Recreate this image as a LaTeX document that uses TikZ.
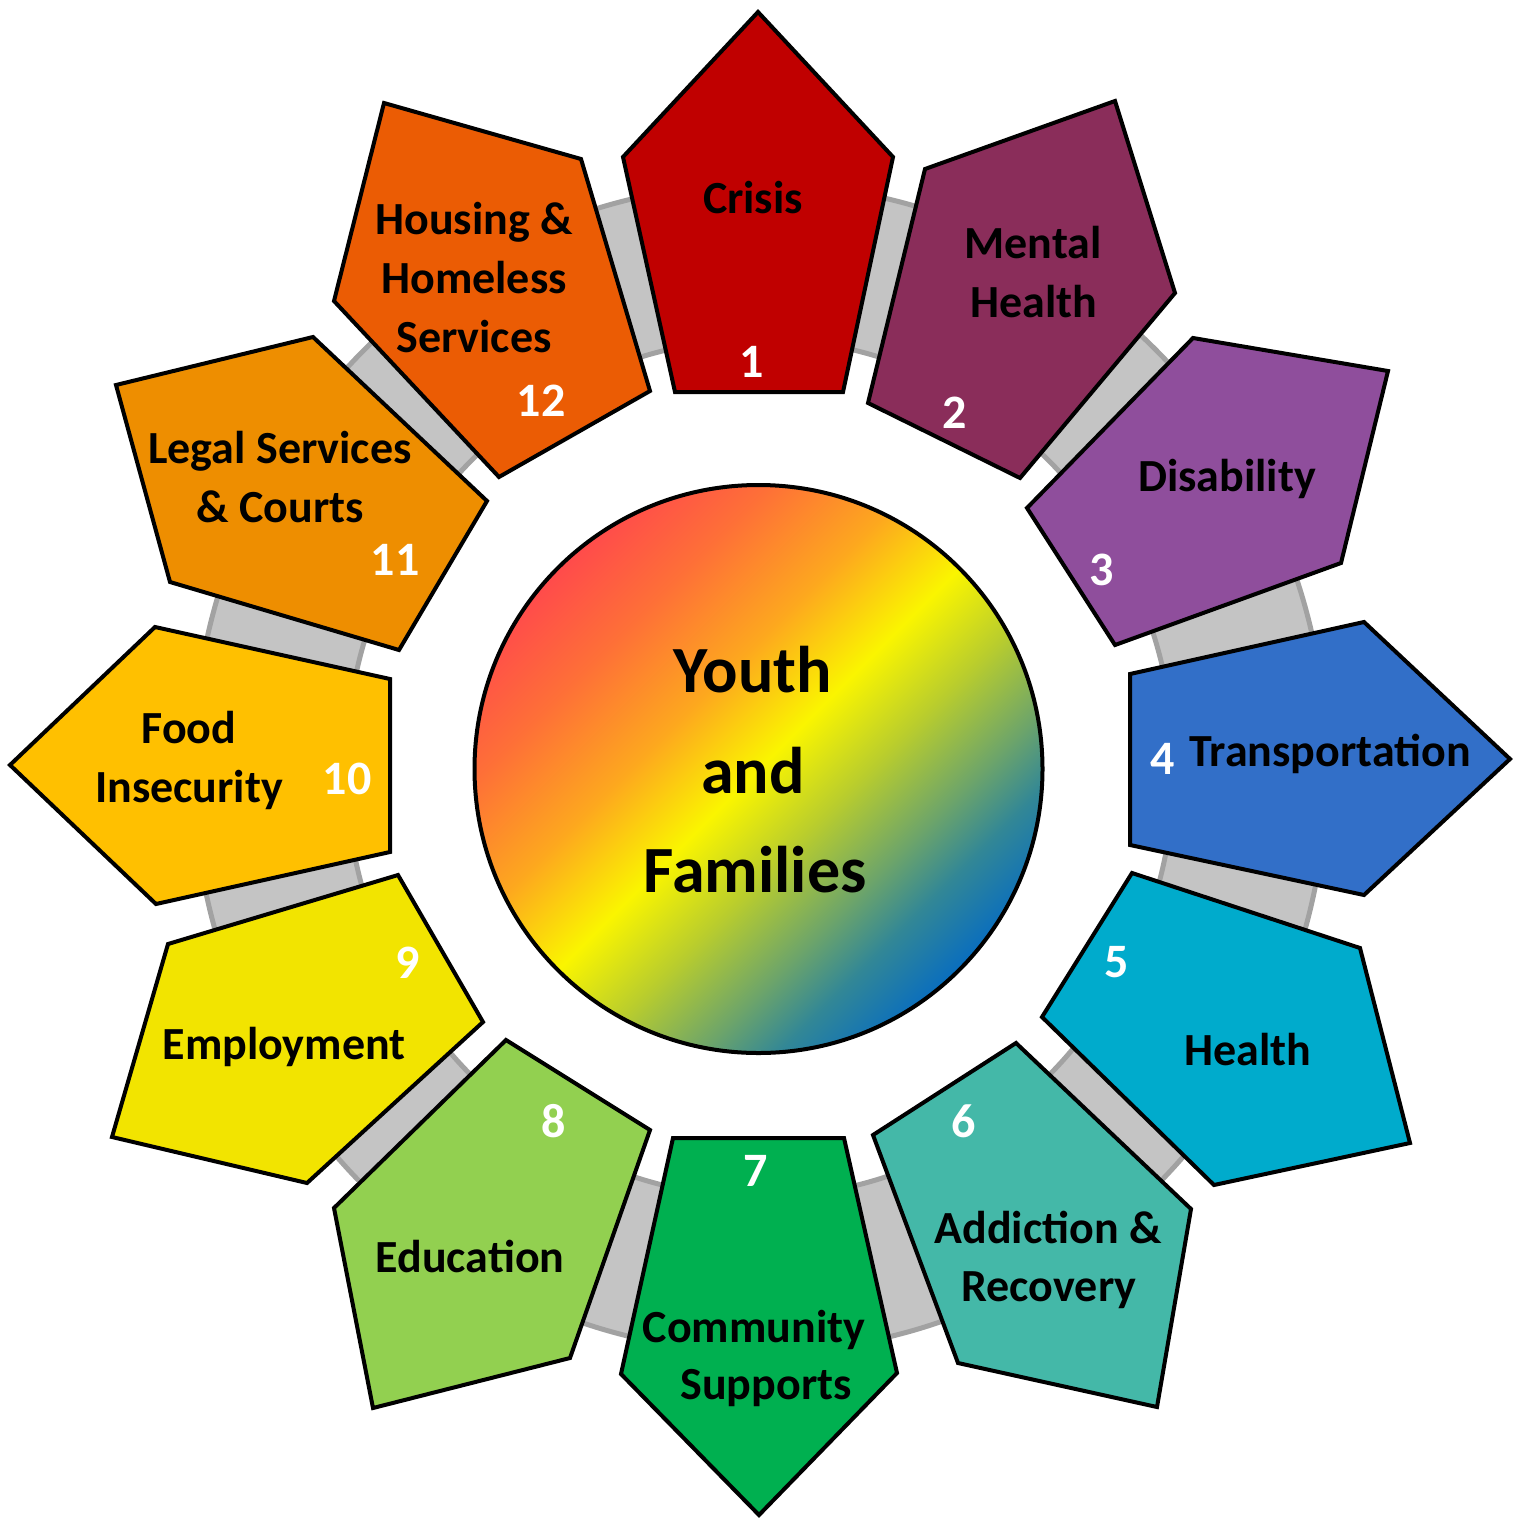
\documentclass[tikz,border=0pt]{standalone}
\usepackage{fontspec}
\setmainfont{Carlito}
\definecolor{c1}{RGB}{192,0,0}
\definecolor{c2}{RGB}{138,45,90}
\definecolor{c3}{RGB}{143,78,156}
\definecolor{c4}{RGB}{50,111,200}
\definecolor{c5}{RGB}{0,171,204}
\definecolor{c6}{RGB}{68,184,168}
\definecolor{c7}{RGB}{0,176,80}
\definecolor{c8}{RGB}{146,208,80}
\definecolor{c9}{RGB}{242,228,0}
\definecolor{c10}{RGB}{255,192,0}
\definecolor{c11}{RGB}{238,142,0}
\definecolor{c12}{RGB}{235,92,4}
\definecolor{ringfill}{RGB}{196,196,196}
\definecolor{ringedge}{RGB}{162,162,162}
\definecolor{g1}{RGB}{255,75,75}
\definecolor{g2}{RGB}{254,112,55}
\definecolor{g3}{RGB}{253,168,30}
\definecolor{g4}{RGB}{250,245,0}
\definecolor{g5}{RGB}{185,205,45}
\definecolor{g6}{RGB}{110,165,105}
\definecolor{g7}{RGB}{50,135,150}
\definecolor{g8}{RGB}{10,110,190}
\pgfdeclarehorizontalshading{ctrgrad}{100bp}{color(0bp)=(g1); color(25bp)=(g1); color(33bp)=(g2); color(42bp)=(g3); color(50bp)=(g4); color(57bp)=(g5); color(64bp)=(g6); color(69bp)=(g7); color(75bp)=(g8); color(100bp)=(g8)}
\begin{document}
\begin{tikzpicture}[x=1pt,y=-1pt,
  pent/.style={draw=black, line width=4pt, line join=miter},
  lab/.style={font=\fontsize{46}{58}\selectfont\bfseries, text=black, anchor=base, inner sep=0pt},
  num/.style={font=\fontsize{48}{58}\selectfont\bfseries, text=white, anchor=base, inner sep=0pt},
  ctr/.style={font=\fontsize{66}{100}\selectfont\bfseries, text=black, anchor=base, inner sep=0pt}]
\useasboundingbox (0,0) rectangle (1520,1518);
% ring
\fill[ringfill, even odd rule] (760,768) ellipse [x radius=567, y radius=584] (760,768) ellipse [x radius=414, y radius=429];
\draw[ringedge, line width=5pt] (760,768) ellipse [x radius=567, y radius=584];
\draw[ringedge, line width=5pt] (760,768) ellipse [x radius=414, y radius=429];
% pentagons
\draw[pent, fill=c1] (758,12) -- (893,157) -- (843,392) -- (675,392) -- (623,157) -- cycle;
\draw[pent, fill=c2] (1115,101) -- (1175,293) -- (1020,478) -- (868,403) -- (925,169) -- cycle;
\draw[pent, fill=c3] (1193,338) -- (1388,371) -- (1341,563) -- (1115,645) -- (1027,508) -- cycle;
\draw[pent, fill=c4] (1364,622) -- (1510,759) -- (1364,895) -- (1130,845) -- (1130,674) -- cycle;
\draw[pent, fill=c5] (1132,873) -- (1360,948) -- (1410,1143) -- (1214,1185) -- (1042,1017) -- cycle;
\draw[pent, fill=c6] (1016,1043) -- (1191,1209) -- (1157,1407) -- (958,1363) -- (873,1135) -- cycle;
\draw[pent, fill=c7] (673,1138) -- (844,1138) -- (897,1373) -- (759,1515) -- (621,1374) -- cycle;
\draw[pent, fill=c8] (506,1040) -- (650,1130) -- (570,1358) -- (373,1408) -- (334,1208) -- cycle;
\draw[pent, fill=c9] (398,875) -- (483,1022) -- (307,1183) -- (112,1137) -- (168,944) -- cycle;
\draw[pent, fill=c10] (155,627) -- (390,679) -- (390,852) -- (156,904) -- (10,765) -- cycle;
\draw[pent, fill=c11] (313,337) -- (487,501) -- (399,650) -- (170,582) -- (116,385) -- cycle;
\draw[pent, fill=c12] (384,103) -- (581,159) -- (650,391) -- (499,477) -- (334,301) -- cycle;
% centre circle
\shade[shading=ctrgrad, shading angle=-45] (758.5,769) circle [radius=284];
\draw[black, line width=4pt] (758.5,769) circle [radius=284];
\node[ctr] (cA) at (753,692) {Youth};
\node[ctr] (cB) at (753,793) {and};
\node[ctr] (cC) at (755,892) {Families};
% labels
\node[lab] (l1) at (753,213) {Crisis};
\node[num] (n1) at (752,377) {1};
\node[lab] (l2a) at (1033,258) {Mental};
\node[lab] (l2b) at (1034,317) {Health};
\node[num] (n2) at (955,428) {2};
\node[lab] (l3) at (1227,491) {Disability};
\node[num] (n3) at (1102,585) {3};
\node[lab] (l4) at (1330,766) {Transportation};
\node[num] (n4) at (1163,774) {4};
\node[lab] (l5) at (1248,1065) {Health};
\node[num] (n5) at (1117,977) {5};
\node[lab] (l6a) at (1048,1243) {Addiction \&};
\node[lab] (l6b) at (1049,1301) {Recovery};
\node[num] (n6) at (964,1137) {6};
\node[lab] (l7a) at (754,1342) {Community};
\node[lab] (l7b) at (766,1399) {Supports};
\node[num] (n7) at (756,1186) {7};
\node[lab] (l8) at (470,1272) {Education};
\node[num] (n8) at (554,1137) {8};
\node[lab] (l9) at (284,1059) {Employment};
\node[num] (n9) at (408,978) {9};
\node[lab] (l10a) at (189,743) {Food};
\node[lab] (l10b) at (189,802) {Insecurity};
\node[num] (n10) at (347,794) {10};
\node[lab] (l11a) at (280,463) {Legal Services};
\node[lab] (l11b) at (280,522) {\& Courts};
\node[num] (n11) at (395,575) {11};
\node[lab] (l12a) at (474,234) {Housing \&};
\node[lab] (l12b) at (474,293) {Homeless};
\node[lab] (l12c) at (474,352) {Services};
\node[num] (n12) at (541,416) {12};
\end{tikzpicture}
\end{document}
